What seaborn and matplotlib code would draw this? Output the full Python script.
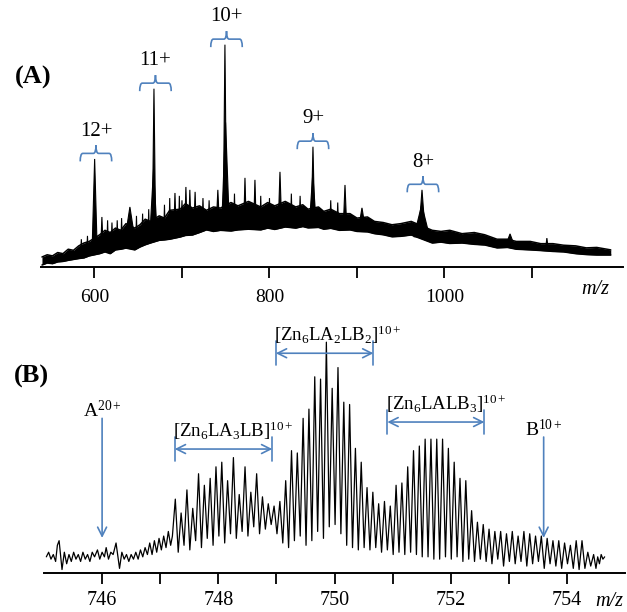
import numpy as np
import matplotlib
matplotlib.use("Agg")
import matplotlib.pyplot as plt
from matplotlib.path import Path
from matplotlib.patches import PathPatch
import seaborn as sns

sns.set_theme(style="white")
plt.rcParams["font.family"] = ["Liberation Serif", "DejaVu Serif"]
plt.rcParams["text.color"] = "black"
plt.rcParams["mathtext.fontset"] = "custom"
plt.rcParams["mathtext.rm"] = "Liberation Serif"
plt.rcParams["mathtext.it"] = "Liberation Serif:italic"
plt.rcParams["mathtext.bf"] = "Liberation Serif:bold"

BLUE = "#4F81BD"

# ---------------- Panel A: full m/z range ----------------
# noisy continuum: upper / lower edge of the trace (relative intensity, %)
a_env_mz = [540, 546, 552, 558, 564, 570, 576, 582, 588, 594,
            606, 612, 618, 624, 630, 636, 646, 652, 658, 664,
            674, 680, 686, 698, 704, 712, 720, 728, 736, 744,
            756, 764, 776, 790, 798, 806, 818, 830, 838, 844,
            856, 862, 870, 880, 892, 900, 912, 920, 930, 940,
            950, 962, 986, 996, 1006, 1020, 1034, 1046, 1060, 1072,
            1082, 1098, 1110, 1124, 1136, 1150, 1162, 1174, 1190]
a_env_hi = [4.5, 5.5, 5.0, 6.5, 6.0, 8.0, 7.5, 9.5, 10.8, 11.5,
            14.5, 16.5, 15.5, 17.5, 16.5, 19.5, 17.5, 19.0, 21.5, 20.5,
            23.0, 22.0, 25.5, 26.0, 28.5, 26.5, 27.5, 25.5, 27.0, 26.5,
            29.0, 27.5, 29.5, 27.0, 29.0, 27.5, 29.5, 27.0, 28.0, 26.0,
            27.0, 25.0, 26.0, 24.0, 24.0, 22.0, 22.5, 20.5, 20.0, 19.0,
            19.5, 20.5, 16.5, 16.0, 16.5, 15.0, 15.5, 14.5, 12.5, 12.5,
            11.5, 11.5, 10.5, 10.5, 9.8, 9.5, 8.6, 8.8, 7.7]
a_env_lo = [0.9, 1.8, 1.5, 2.3, 2.5, 3.0, 3.4, 3.8, 4.1, 5.0,
            6.0, 6.8, 6.0, 7.7, 8.0, 8.5, 7.7, 9.0, 10.0, 10.8,
            12.0, 12.2, 12.5, 13.5, 14.2, 14.4, 15.5, 16.7, 16.0, 16.5,
            16.2, 16.7, 17.0, 16.7, 17.5, 16.9, 18.0, 17.5, 18.2, 17.6,
            17.8, 17.0, 17.4, 16.5, 16.7, 16.0, 15.8, 15.0, 14.5, 13.6,
            13.8, 14.4, 10.8, 11.2, 10.6, 10.8, 10.2, 9.9, 8.6, 8.8,
            8.0, 7.7, 7.4, 7.0, 6.8, 6.0, 5.6, 5.4, 5.4]

# peaks rising from the continuum: centre, apex, half-width at the base
a_peak_mz = [585.0, 592.0, 600.2, 608.5, 615.0, 620.0, 626.0, 631.0, 640.5, 648.0,
             655.0, 662.0, 667.5, 668.0, 680.0, 686.0, 692.0, 697.0, 700.0, 704.5,
             709.0, 715.0, 724.0, 731.0, 741.0, 749.8, 749.1, 760.0, 772.0, 783.4,
             790.0, 800.0, 812.0, 825.0, 835.0, 849.5, 849.7, 870.0, 878.0, 886.3,
             905.7, 974.0, 974.3, 1074.9, 1117.0]
a_peak_int = [12.5, 14.0, 48.6, 22.5, 21.0, 20.0, 21.0, 22.0, 27.0, 23.0,
              24.0, 26.0, 44.0, 80.2, 28.0, 31.0, 33.3, 32.0, 30.0, 36.0,
              34.7, 33.8, 31.0, 30.0, 34.7, 65.0, 100.0, 33.0, 40.1, 39.2,
              32.0, 31.0, 42.8, 33.0, 32.0, 42.0, 54.1, 30.0, 29.0, 36.9,
              26.6, 28.0, 34.7, 14.9, 13.0]
a_peak_hw = [1.0, 1.0, 3.0, 1.5, 1.0, 1.0, 1.0, 1.0, 7.0, 1.0,
             1.0, 1.0, 4.5, 2.0, 1.0, 1.0, 1.5, 1.0, 1.0, 1.5,
             1.5, 1.5, 1.0, 1.0, 2.0, 4.5, 2.0, 1.0, 1.5, 1.5,
             1.0, 1.0, 2.0, 1.0, 1.0, 4.0, 2.0, 1.0, 1.0, 2.0,
             4.0, 9.0, 4.0, 5.0, 1.5]

charge_labels = ["12+", "11+", "10+", "9+", "8+"]
charge_mz = [601.7, 669.7, 750.9, 849.7, 975.4]
charge_top = [48.6, 80.2, 100.0, 54.1, 34.7]

a_ticks = [600, 700, 800, 900, 1000, 1100]
a_ticklabels = ["600", "", "800", "", "1000", ""]

# ---------------- Panel B: zoom on the 10+ envelope ----------------
b_mz = [745.04, 745.08, 745.12, 745.16, 745.20, 745.23, 745.26, 745.31, 745.35, 745.39,
        745.43, 745.47, 745.51, 745.55, 745.59, 745.63, 745.67, 745.71, 745.75, 745.79,
        745.83, 745.87, 745.92, 745.96, 746.00, 746.04, 746.07, 746.11, 746.15, 746.19,
        746.24, 746.30, 746.34, 746.38, 746.42, 746.46, 746.50, 746.54, 746.58, 746.62,
        746.66, 746.70, 746.74, 746.78, 746.82, 746.86, 746.90, 746.94, 746.98, 747.02,
        747.06, 747.10, 747.14, 747.18, 747.21,
        747.26, 747.31, 747.36, 747.41, 747.46, 747.51, 747.56, 747.61, 747.66, 747.71,
        747.76, 747.81, 747.86, 747.91, 747.96, 748.01, 748.06, 748.11, 748.16, 748.21,
        748.26, 748.31, 748.36, 748.41, 748.46, 748.51, 748.56, 748.61, 748.66, 748.71,
        748.76, 748.81, 748.86, 748.91, 748.96, 749.01, 749.06, 749.11, 749.16, 749.21,
        749.26, 749.31, 749.36, 749.41, 749.46, 749.51, 749.56, 749.61, 749.66, 749.71,
        749.76, 749.81, 749.86, 749.91, 749.96, 750.01, 750.06, 750.11, 750.16, 750.21,
        750.26, 750.31, 750.36, 750.41, 750.46, 750.51, 750.56, 750.61, 750.66, 750.71,
        750.76, 750.81, 750.86, 750.91, 750.96, 751.01, 751.06, 751.11, 751.16, 751.21,
        751.26, 751.31, 751.36, 751.41, 751.46, 751.51, 751.56, 751.61, 751.66, 751.71,
        751.76, 751.81, 751.86, 751.91, 751.96, 752.01, 752.06, 752.11, 752.16, 752.21,
        752.26, 752.31, 752.36, 752.41, 752.46, 752.51, 752.56, 752.61, 752.66, 752.71,
        752.76, 752.81, 752.86, 752.91, 752.96, 753.01, 753.06, 753.11, 753.16, 753.21,
        753.26, 753.31, 753.36, 753.41, 753.46, 753.51, 753.56, 753.61, 753.66, 753.71,
        753.76, 753.81, 753.86, 753.91, 753.96, 754.01, 754.06, 754.11, 754.16, 754.21,
        754.26, 754.31, 754.36, 754.41, 754.46, 754.50, 754.53, 754.56, 754.59, 754.62,
        754.65]
b_int = [7, 9, 6, 8, 5, 12, 14, 1.5, 9, 4,
         8, 5, 9, 6, 8, 5, 9, 6, 8, 5,
         9, 7, 10, 6, 9, 7, 11, 6, 9, 8,
         13, 2, 9, 6, 8, 5, 8, 6, 9, 6,
         10, 7, 11, 8, 13, 8, 14, 9, 15, 10,
         16, 11, 18, 12, 16,
         32, 9, 26, 12, 36, 10, 28, 14, 43, 11,
         38, 15, 41, 12, 46, 16, 48, 13, 40, 17,
         50, 15, 34, 18, 46, 16, 35, 20, 43, 17,
         33, 19, 30, 21, 29, 17, 31, 13, 40, 11,
         53, 14, 52, 16, 67, 12, 71, 14, 85, 18,
         84, 15, 100, 20, 80, 21, 89, 17, 74, 12,
         73, 11, 54, 10, 48, 11, 37, 10, 35, 11,
         30, 9, 31, 10, 29, 8, 38, 9, 39, 8,
         46, 9, 53, 8, 55, 7, 58, 7, 58, 6,
         58, 6, 58, 7, 54, 6, 48, 7, 41, 5,
         40, 6, 27, 5, 22, 6, 21, 5, 19, 4,
         18, 6, 18, 3, 17, 5, 18, 4, 16, 5,
         18, 3, 17, 4, 16, 5, 16, 2, 15, 4,
         14, 3, 14, 2, 13, 4, 12, 2, 14, 1.5,
         14, 2, 9, 3, 8, 2, 7, 4, 8, 6,
         7]

b_ticks = [746, 747, 748, 749, 750, 751, 752, 753, 754]
b_ticklabels = ["746", "", "748", "", "750", "", "752", "", "754"]

# species ranges (double arrows) and single-component markers
species_text = [r"[Zn$_6$LA$_3$LB]$^{10+}$", r"[Zn$_6$LA$_2$LB$_2$]$^{10+}$",
                r"[Zn$_6$LALB$_3$]$^{10+}$"]
species_lo = [747.25, 748.99, 750.91]
species_hi = [748.93, 750.67, 752.58]
species_level = [53.7, 95.2, 65.4]
marker_text = [r"A$^{20+}$", r"B$^{10+}$"]
marker_mz = [746.0, 753.6]
marker_top = [67.0, 58.9]
marker_tip = [15.2, 15.2]

# ---------------- figure ----------------
W, H = 627, 612
fig = plt.figure(figsize=(W / 100, H / 100), dpi=100)


def px_axes(left, top, right, bottom):
    return fig.add_axes([left / W, 1 - bottom / H, (right - left) / W, (bottom - top) / H])


axA = px_axes(41, 18, 623, 267)
axB = px_axes(44, 296, 625, 573)

# continuum band
sns.lineplot(x=a_env_mz, y=a_env_hi, ax=axA, color="black", lw=1.1, estimator=None)
sns.lineplot(x=a_env_mz, y=a_env_lo, ax=axA, color="black", lw=1.1, estimator=None)
axA.fill_between(a_env_mz, a_env_lo, a_env_hi, color="black", lw=0)
# peaks
for mz, top, hw in zip(a_peak_mz, a_peak_int, a_peak_hw):
    base = np.interp(mz, a_env_mz, a_env_lo) + 1.0
    axA.fill([mz - hw, mz, mz + hw], [base, top, base], color="black", lw=0.8,
             edgecolor="black")

axA.set_xlim(538.9, 1204.0)
axA.set_ylim(0, 112)

# curly braces with charge-state labels
hw_b, d_b = 18.0, 3.6
for lab, cx, top in zip(charge_labels, charge_mz, charge_top):
    y = top + 2.5
    r = 3.0
    verts = [(cx - hw_b, y - d_b), (cx - hw_b, y), (cx - hw_b + r, y),
             (cx - r, y),
             (cx, y), (cx, y + d_b),
             (cx, y), (cx + r, y),
             (cx + hw_b - r, y),
             (cx + hw_b, y), (cx + hw_b, y - d_b)]
    codes = [Path.MOVETO, Path.CURVE3, Path.CURVE3,
             Path.LINETO,
             Path.CURVE3, Path.CURVE3,
             Path.CURVE3, Path.CURVE3,
             Path.LINETO,
             Path.CURVE3, Path.CURVE3]
    axA.add_patch(PathPatch(Path(verts, codes), fill=False, edgecolor=BLUE, lw=1.2,
                            clip_on=False))
    axA.text(cx, y + 10.0, lab, ha="center", va="center", fontsize=15, clip_on=False)

# spectrum trace
sns.lineplot(x=b_mz, y=b_int, ax=axB, color="black", lw=0.9, estimator=None)
axB.set_xlim(745, 755)
axB.set_ylim(0, 120)

for txt, lo, hi, lv in zip(species_text, species_lo, species_hi, species_level):
    axB.annotate("", xy=(hi, lv), xytext=(lo, lv),
                 arrowprops=dict(arrowstyle="<->", color=BLUE, lw=1.2,
                                 mutation_scale=16, shrinkA=0, shrinkB=0))
    for xe in (lo, hi):
        axB.plot([xe, xe], [lv - 5.0, lv + 5.2], color=BLUE, lw=1.2)
    axB.text(lo - 0.03, lv + 5.2, txt, ha="left", va="baseline", fontsize=13.5)

for txt, mz, top, tip in zip(marker_text, marker_mz, marker_top, marker_tip):
    axB.annotate("", xy=(mz, tip), xytext=(mz, top),
                 arrowprops=dict(arrowstyle="->", color=BLUE, lw=1.2,
                                 mutation_scale=16, shrinkA=0, shrinkB=0))
    axB.text(mz, top + 0.5, txt, ha="center", va="baseline", fontsize=14)

# axes styling: only the m/z axis is shown
for ax, ticks, labels, fs, pad in ((axA, a_ticks, a_ticklabels, 14, 8),
                                   (axB, b_ticks, b_ticklabels, 14.5, 5)):
    for s in ("top", "right", "left"):
        ax.spines[s].set_visible(False)
    ax.spines["bottom"].set_linewidth(1.4)
    ax.spines["bottom"].set_color("black")
    ax.set_xticks(ticks)
    ax.set_xticklabels(labels)
    ax.set_yticks([])
    ax.tick_params(axis="x", direction="out", length=8, width=1.3, colors="black",
                   labelsize=fs, pad=pad, bottom=True)
    ax.set_xlabel("")
    ax.set_ylabel("")
    ax.patch.set_alpha(0)

fig.text(595 / W, 1 - 290 / H, "m/z", ha="center", va="center", fontsize=14.5,
         style="italic")
fig.text(609 / W, 1 - 602 / H, "m/z", ha="center", va="center", fontsize=14.5,
         style="italic")
fig.text(33 / W, 1 - 77 / H, "(A)", ha="center", va="center", fontsize=19,
         fontweight="bold")
fig.text(31 / W, 1 - 376 / H, "(B)", ha="center", va="center", fontsize=19,
         fontweight="bold")

fig.savefig("out.png", dpi=100, facecolor="white")
